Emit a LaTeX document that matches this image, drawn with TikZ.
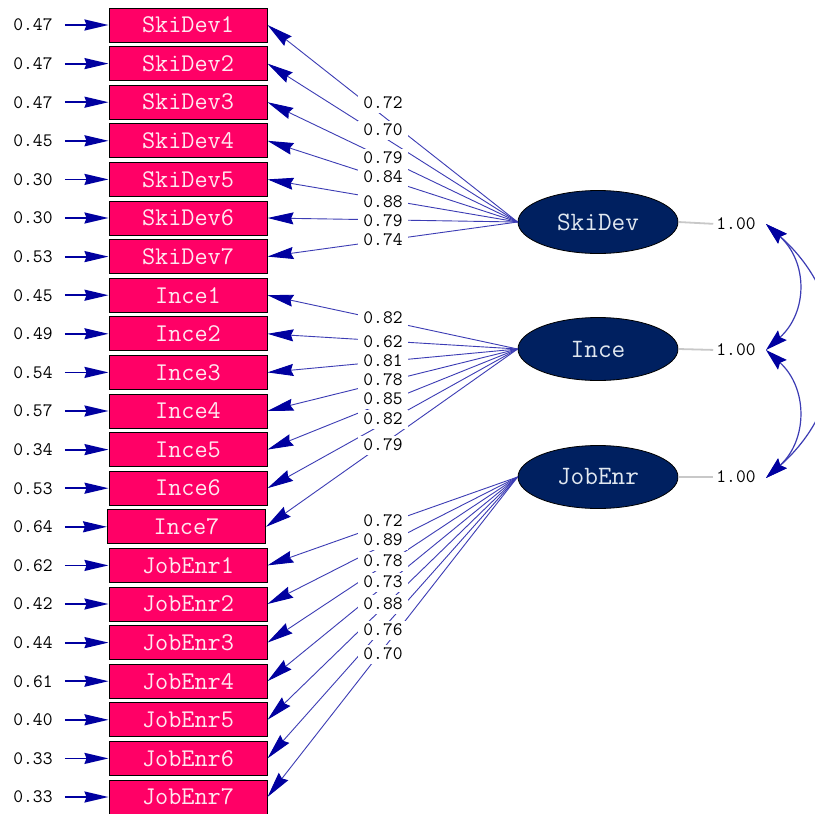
\documentclass[tikz,border=0pt]{standalone}
\usepackage{fontspec}
\usetikzlibrary{arrows.meta,shapes.geometric}
\definecolor{boxpink}{RGB}{255,0,102}
\definecolor{navyell}{RGB}{0,32,96}
\definecolor{lineblue}{RGB}{60,60,180}
\definecolor{headblue}{RGB}{0,0,160}
\definecolor{boxtext}{RGB}{255,232,240}
\definecolor{elltext}{RGB}{225,232,240}
\definecolor{graylink}{RGB}{200,200,200}
\begin{document}
\begin{tikzpicture}[x=1pt,y=-1pt,
  obs/.style={draw=black,line width=1pt,fill=boxpink,minimum width=158pt,minimum height=34pt,inner sep=0pt,text=boxtext,font=\ttfamily\fontsize{25.5}{25.5}\selectfont},
  lat/.style={ellipse,draw=black,line width=0.8pt,fill=navyell,minimum width=160pt,minimum height=63pt,inner sep=0pt,text=elltext,font=\ttfamily\fontsize{26.5}{26.5}\selectfont},
  num/.style={inner sep=0pt,font=\ttfamily\fontsize{19}{19}\selectfont,text=black},
  loadlab/.style={num,fill=white,minimum width=50pt,minimum height=19pt},
  errarr/.style={draw=headblue,line width=1.8pt,shorten <=12pt,-{Stealth[length=24pt,width=11pt,inset=2pt]}},
  loadarr/.style={draw=lineblue,line width=0.9pt,-{Stealth[length=26pt,width=12pt,inset=2.5pt,color=headblue]}},
  varline/.style={draw=graylink,line width=1.8pt,shorten >=3pt},
  covarr/.style={draw=lineblue,line width=1.2pt,{Stealth[length=22pt,width=13pt,inset=3pt,color=headblue]}-{Stealth[length=22pt,width=13pt,inset=3pt,color=headblue]}}
]
\useasboundingbox (0,0) rectangle (815,814);
\fill[white] (0,0) rectangle (815,814);

% observed variables
\foreach \k/\name/\ev in {1/SkiDev1/0.47,2/SkiDev2/0.47,3/SkiDev3/0.47,4/SkiDev4/0.45,5/SkiDev5/0.30,6/SkiDev6/0.30,7/SkiDev7/0.53,
  8/Ince1/0.45,9/Ince2/0.49,10/Ince3/0.54,11/Ince4/0.57,12/Ince5/0.34,13/Ince6/0.53,14/Ince7/0.64,
  15/JobEnr1/0.62,16/JobEnr2/0.42,17/JobEnr3/0.44,18/JobEnr4/0.61,19/JobEnr5/0.40,20/JobEnr6/0.33,21/JobEnr7/0.33}{
  \pgfmathsetmacro{\yy}{25+38.6*(\k-1)}
  \pgfmathsetmacro{\xx}{\k==14 ? 186.5 : 188}
  \node[obs] (b\k) at (\xx,\yy) {\name};
  \node[num] (e\k) at (33,\yy) {\ev};
  \draw[errarr] (e\k) -- (b\k);
}

% latent variables
\node[lat] (s) at (598,222) {SkiDev};
\node[lat] (i) at (598,349) {Ince};
\node[lat] (j) at (598,477) {JobEnr};

% loadings
\foreach \k in {1,...,7}{\draw[loadarr] (s.west) -- (b\k.east);}
\foreach \k in {8,...,14}{\draw[loadarr] (i.west) -- (b\k.east);}
\foreach \k in {15,...,21}{\draw[loadarr] (j.west) -- (b\k.east);}

\foreach \k/\yy/\v in {1/103/0.72,2/130/0.70,3/158/0.79,4/177/0.84,5/202/0.88,6/221/0.79,7/240/0.74,
  8/318/0.82,9/342/0.62,10/361/0.81,11/380/0.78,12/399/0.85,13/419/0.82,14/445/0.79,
  15/521/0.72,16/540/0.89,17/561/0.78,18/582/0.73,19/604/0.88,20/630/0.76,21/654/0.70}{
  \node[loadlab] (l\k) at (383,\yy) {\v};
}

% variances
\node[num] (v1) at (736,224) {1.00};
\node[num] (v2) at (736,350) {1.00};
\node[num] (v3) at (736,477) {1.00};
\draw[varline] (s.east) -- (v1.west);
\draw[varline] (i.east) -- (v2.west);
\draw[varline] (j.east) -- (v3.west);

% covariances
\coordinate (c1) at (766,224);
\coordinate (c2) at (766,350);
\coordinate (c3) at (766,478);
\draw[covarr] (c1) .. controls (808,262) and (808,312) .. (c2);
\draw[covarr] (c2) .. controls (808,388) and (808,440) .. (c3);
\draw[covarr] (c1) .. controls (852,300) and (852,402) .. (c3);
\end{tikzpicture}
\end{document}
